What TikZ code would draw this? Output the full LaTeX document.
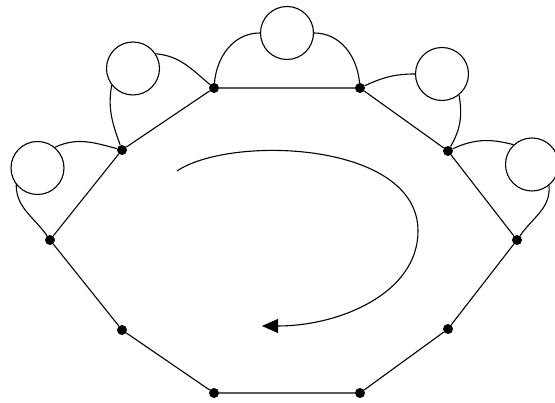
\documentclass[tikz,border=0pt]{standalone}
\usetikzlibrary{arrows.meta}
\tikzset{
  vertex/.style={circle, fill=black, inner sep=0pt, minimum size=10pt},
  bubble/.style={circle, draw=black, line width=1.1pt, inner sep=0pt, minimum size=53pt},
  edge/.style={line width=1.1pt},
}
\begin{document}
\begin{tikzpicture}[x=1pt,y=1pt]
  \useasboundingbox (0,0) rectangle (555,403);

  % vertices of the polygon
  \node[vertex] (v1)  at (214,315) {};
  \node[vertex] (v2)  at (360,315) {};
  \node[vertex] (v3)  at (448,252) {};
  \node[vertex] (v4)  at (517,163) {};
  \node[vertex] (v5)  at (448,74)  {};
  \node[vertex] (v6)  at (360,10)  {};
  \node[vertex] (v7)  at (214,10)  {};
  \node[vertex] (v8)  at (122,73)  {};
  \node[vertex] (v9)  at (50,163)  {};
  \node[vertex] (v10) at (122,253) {};

  % polygon edges
  \draw[edge] (v1) -- (v2) -- (v3) -- (v4) -- (v5) -- (v6) -- (v7) -- (v8) -- (v9) -- (v10) -- (v1);

  % self-energy bubbles on the upper edges
  \node[bubble] (bL)  at (37.5,235) {};
  \node[bubble] (bUL) at (133,334.5) {};
  \node[bubble] (bT)  at (287,370) {};
  \node[bubble] (bUR) at (442,329) {};
  \node[bubble] (bR)  at (532,238.5) {};

  \draw[edge] (v9) to[out=125,in=-90] (bL.218);
  \draw[edge] (bL.50) to[out=25,in=165] (v10);
  \draw[edge] (v10) to[out=110,in=-100] (bUL.218);
  \draw[edge] (bUL.33) to[out=-5,in=140] (v1);
  \draw[edge] (v1) to[out=85,in=180] (bT.west);
  \draw[edge] (bT.east) to[out=0,in=95] (v2);
  \draw[edge] (v2) to[out=25,in=180] (bUR.west);
  \draw[edge] (bUR.-51) to[out=-80,in=60] (v3);
  \draw[edge] (v3) to[out=25,in=165] (bR.133);
  \draw[edge] (bR.-51) to[out=-85,in=55] (v4);

  % circulation arrow
  \coordinate (a0) at (177,232);
  \coordinate (am) at (418,172);
  \coordinate (a1) at (262,77);
  \draw[edge, -{Triangle[length=16pt,width=14pt]}]
    (a0) .. controls (230,268) and (418,262) .. (am)
         .. controls (418,110) and (340,77) .. (a1);
\end{tikzpicture}
\end{document}
